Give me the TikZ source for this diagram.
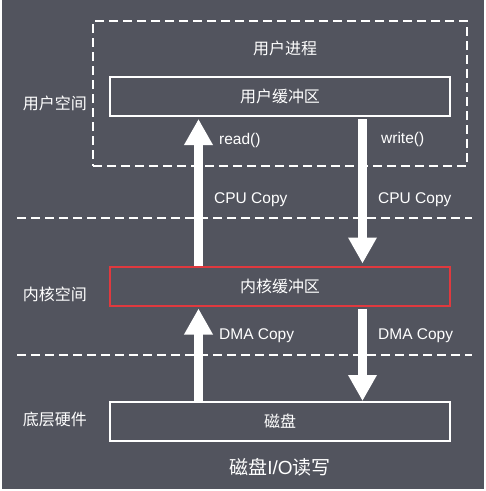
\documentclass[tikz,border=0pt]{standalone}
\usepackage{fontspec}
\setmainfont{Liberation Sans}
\newfontfamily\cjk{Noto Sans CJK SC}
\usetikzlibrary{arrows.meta}
\definecolor{bg}{HTML}{52545E}
\definecolor{redline}{HTML}{E0393E}
\tikzset{
  txt/.style={text=white, font=\cjk\fontsize{16}{18}\selectfont, inner sep=0pt},
  ltxt/.style={text=white, font=\fontsize{15.5}{17}\selectfont, inner sep=0pt, anchor=west},
  bufbox/.style={draw=white, line width=2pt, minimum width=340pt, minimum height=39pt, inner sep=0pt, text=white, font=\cjk\fontsize{16}{18}\selectfont},
  divider/.style={white, line width=2pt, dash pattern=on 9pt off 5pt},
  bigarrow/.style={white, line width=9pt, -{Triangle[width=27pt,length=26pt]}},
}
\begin{document}
\begin{tikzpicture}[x=1pt,y=-1pt]
\useasboundingbox (0,0) rectangle (486,491);
\fill[white] (0,0) rectangle (486,491);
\fill[bg] (2,0) rectangle (484,489);
% user process dashed box
\node[draw=white, line width=2pt, dash pattern=on 9pt off 5pt, minimum width=374pt, minimum height=145pt, inner sep=0pt] (userproc) at (280,93.5) {};
\node[txt] (ptitle) at (285,48) {用户进程};
% buffers
\node[bufbox] (userbuf) at (280,96.5) {用户缓冲区};
\node[bufbox, draw=redline] (kernelbuf) at (280,286) {内核缓冲区};
\node[bufbox] (disk) at (280,421.5) {磁盘};
% layer labels
\node[txt] (luser) at (55,103) {用户空间};
\node[txt] (lkernel) at (55,294) {内核空间};
\node[txt] (lhw) at (55,419) {底层硬件};
% dividers
\coordinate (d1l) at (17,218);
\coordinate (d1r) at (472,218);
\coordinate (d2l) at (17,355);
\coordinate (d2r) at (472,355);
\draw[divider] (d1l) -- (d1r);
\draw[divider] (d2l) -- (d2r);
% arrow x positions
\coordinate (rx) at (198.5,0);
\coordinate (wx) at (362.5,0);
% arrows
\draw[bigarrow, shorten >=2pt] (kernelbuf.north -| rx) -- (userbuf.south -| rx);
\draw[bigarrow, shorten <=2pt, shorten >=2pt] (userbuf.south -| wx) -- (kernelbuf.north -| wx);
\draw[bigarrow, shorten >=2pt] (disk.north -| rx) -- (kernelbuf.south -| rx);
\draw[bigarrow, shorten <=2pt] (kernelbuf.south -| wx) -- (disk.north -| wx);
% arrow labels
\node[ltxt] (lread) at (219,140) {read()};
\node[ltxt] (lwrite) at (381,139) {write()};
\node[ltxt] (cpu1) at (214,199.5) {CPU Copy};
\node[ltxt] (cpu2) at (378,199.5) {CPU Copy};
\node[ltxt] (dma1) at (219,335.5) {DMA Copy};
\node[ltxt] (dma2) at (378,335.5) {DMA Copy};
% title
\node[text=white, inner sep=0pt, font=\fontsize{19}{21}\selectfont] (title) at (280,467) {{\cjk 磁盘}I/O{\cjk 读写}};
\end{tikzpicture}
\end{document}
